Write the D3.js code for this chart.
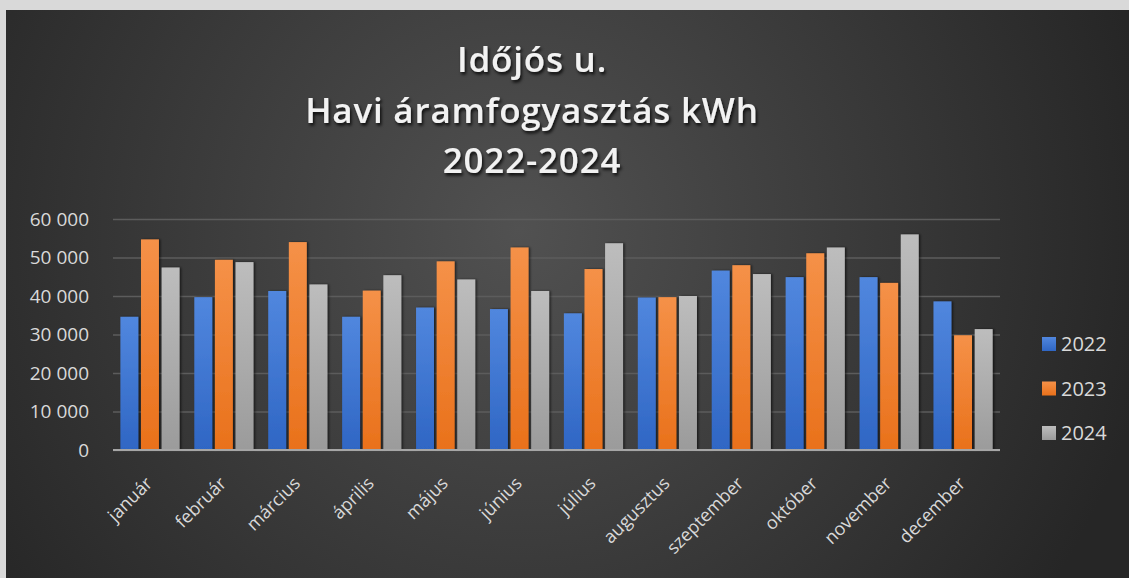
<!DOCTYPE html>
<meta charset='utf-8'>
<html>
<head>
    <title>Havi áramfogyasztás</title>
    <script src='https://d3js.org/d3.v7.min.js'></script>
    <style>
        html,
        body {
            margin: 0;
            padding: 0;
            background-color: #d9d9d9;
        }

        svg {
            display: block;
        }
    </style>
</head>
<body>
    <script>

        // data
        const months = ['január', 'február', 'március', 'április', 'május', 'június',
            'július', 'augusztus', 'szeptember', 'október', 'november', 'december'];
        const years = ['2022', '2023', '2024'];
        const values2022 = [34600, 39700, 41300, 34600, 37000, 36600, 35500, 39600, 46600, 44900, 44900, 38600];
        const values2023 = [54700, 49400, 54000, 41400, 49000, 52600, 47000, 39700, 48000, 51100, 43400, 29800];
        const values2024 = [47400, 48800, 43000, 45400, 44300, 41300, 53700, 40000, 45700, 52600, 56000, 31400];
        const yTicks = [0, 10000, 20000, 30000, 40000, 50000, 60000];
        const titleLines = ['Időjós u.', 'Havi áramfogyasztás kWh', '2022-2024'];

        const width = 1129;
        const height = 578;

        const plotLeft = 113;
        const plotRight = 1000;
        const plotTop = 219;
        const plotBottom = 450;

        const seriesValues = [values2022, values2023, values2024];
        const colours = {
            '2022': ['#5187de', '#2f66c4'],
            '2023': ['#f59148', '#e9711b'],
            '2024': ['#bdbdbd', '#9b9b9b']
        };

        const svg = d3.select('body')
            .append('svg')
            .attr('width', width)
            .attr('height', height);

        const defs = svg.append('defs');

        // dark background with soft lighter centre
        const bg = defs.append('radialGradient')
            .attr('id', 'bg')
            .attr('gradientUnits', 'userSpaceOnUse')
            .attr('cx', 520).attr('cy', 230).attr('r', 640);
        bg.append('stop').attr('offset', '0%').attr('stop-color', '#515151');
        bg.append('stop').attr('offset', '100%').attr('stop-color', '#262626');

        years.forEach(function (y) {
            const g = defs.append('linearGradient')
                .attr('id', 'grad' + y)
                .attr('x1', 0).attr('y1', 0).attr('x2', 0).attr('y2', 1);
            g.append('stop').attr('offset', '0%').attr('stop-color', colours[y][0]);
            g.append('stop').attr('offset', '100%').attr('stop-color', colours[y][1]);
        });

        const shadow = defs.append('filter')
            .attr('id', 'shadow')
            .attr('x', '-10%').attr('y', '-20%').attr('width', '130%').attr('height', '160%');
        shadow.append('feDropShadow')
            .attr('dx', 1.5).attr('dy', 2.5).attr('stdDeviation', 1.5)
            .attr('flood-color', '#000').attr('flood-opacity', 0.8);

        const barShadow = defs.append('filter')
            .attr('id', 'barShadow')
            .attr('x', '-30%').attr('y', '-5%').attr('width', '160%').attr('height', '110%');
        barShadow.append('feDropShadow')
            .attr('dx', 1.5).attr('dy', 0).attr('stdDeviation', 1.2)
            .attr('flood-color', '#000').attr('flood-opacity', 0.6);

        svg.append('rect')
            .attr('x', 6)
            .attr('y', 10)
            .attr('width', width - 6)
            .attr('height', height - 10)
            .attr('fill', 'url(#bg)');

        // Title
        svg.append('g')
            .selectAll('text')
            .data(titleLines)
            .enter()
            .append('text')
            .attr('x', 532)
            .attr('y', function (d, i) { return 72 + i * 50.5; })
            .attr('text-anchor', 'middle')
            .attr('filter', 'url(#shadow)')
            .style('font-family', "'Open Sans', sans-serif")
            .style('font-weight', 600)
            .style('font-size', '35px')
            .style('letter-spacing', '0.8px')
            .style('fill', '#f2f2f2')
            .text(function (d) { return d; });

        // Scales
        const x = d3.scaleBand()
            .domain(months)
            .range([plotLeft, plotRight])
            .paddingInner(0.2)
            .paddingOuter(0.1);

        const xSeries = d3.scaleBand()
            .domain(years)
            .range([0, x.bandwidth()])
            .paddingInner(0.13);

        const y = d3.scaleLinear()
            .domain([0, 60000])
            .range([plotBottom, plotTop]);

        const fmt = function (v) {
            return d3.format(',')(v).replace(/,/g, ' ');
        };

        // gridlines
        const yAxis = d3.axisLeft(y)
            .tickValues(yTicks)
            .tickSize(-(plotRight - plotLeft))
            .tickPadding(24)
            .tickFormat(fmt);

        const yAxisG = svg.append('g')
            .attr('transform', 'translate(' + plotLeft + ',0)')
            .call(yAxis);
        yAxisG.select('.domain').remove();
        yAxisG.selectAll('.tick line')
            .attr('stroke', '#5c5c5c')
            .attr('stroke-width', 1.5);
        yAxisG.selectAll('.tick text')
            .style('font-family', "'Open Sans', sans-serif")
            .style('font-size', '19px')
            .style('fill', '#d9d9d9');

        // Bars
        const rows = months.map(function (m, i) {
            return {
                month: m,
                items: years.map(function (yr, j) {
                    return { year: yr, value: seriesValues[j][i] };
                })
            };
        });

        svg.append('g')
            .selectAll('g')
            .data(rows)
            .enter()
            .append('g')
            .attr('transform', function (d) { return 'translate(' + x(d.month) + ',0)'; })
            .selectAll('rect')
            .data(function (d) { return d.items; })
            .enter()
            .append('rect')
            .attr('x', function (d) { return xSeries(d.year); })
            .attr('y', function (d) { return y(d.value); })
            .attr('width', xSeries.bandwidth())
            .attr('height', function (d) { return plotBottom - y(d.value); })
            .attr('fill', function (d) { return 'url(#grad' + d.year + ')'; })
            .attr('filter', 'url(#barShadow)');

        // x axis
        const xAxis = d3.axisBottom(x)
            .tickSize(0);

        const xAxisG = svg.append('g')
            .attr('transform', 'translate(0,' + plotBottom + ')')
            .call(xAxis);
        xAxisG.select('.domain')
            .attr('stroke', '#a6a6a6')
            .attr('stroke-width', 2)
            .attr('d', 'M' + plotLeft + ',0H' + plotRight);
        xAxisG.selectAll('.tick text')
            .style('font-family', "'Open Sans', sans-serif")
            .style('font-size', '18px')
            .style('fill', '#d9d9d9')
            .attr('text-anchor', 'end')
            .attr('x', 0)
            .attr('y', 0)
            .attr('dy', '0.35em')
            .attr('transform', 'translate(-1,30) rotate(-45)');

        // Legend
        const legend = svg.selectAll('g.legendEntry')
            .data(years)
            .enter()
            .append('g')
            .attr('class', 'legendEntry')
            .attr('transform', function (d, i) { return 'translate(1042,' + (344 + i * 44.5) + ')'; });

        legend.append('rect')
            .attr('x', 0)
            .attr('y', -7)
            .attr('width', 14)
            .attr('height', 14)
            .attr('fill', function (d) { return 'url(#grad' + d + ')'; });

        legend.append('text')
            .attr('x', 19)
            .attr('y', 0)
            .attr('dy', '0.36em')
            .style('font-family', "'Open Sans', sans-serif")
            .style('font-size', '20px')
            .style('fill', '#d9d9d9')
            .text(function (d) { return d; });

    </script>
</body>
</html>
